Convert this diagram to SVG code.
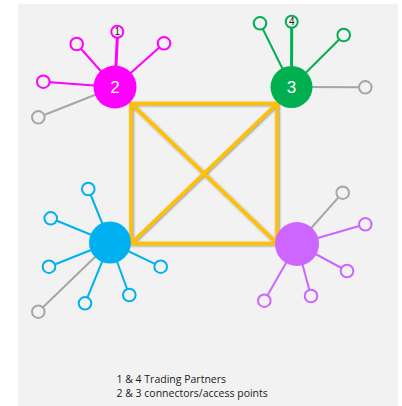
<svg xmlns="http://www.w3.org/2000/svg" width="402" height="406" viewBox="0 0 402 406">
<defs>
<style>
.sat{fill:#f2f2f2;stroke-width:2}
.ln{stroke-width:2;fill:none}
.mg{stroke:#ff00ff}.gr{stroke:#00b050}.bl{stroke:#00b0f0}.pu{stroke:#cc66ff}.gy{stroke:#a6a6a6}
.thick{stroke-width:3}
.lbl{font-family:"Liberation Sans",Arial,sans-serif;fill:#fff;font-size:17px;text-anchor:middle}
.num{font-family:"Liberation Sans",Arial,sans-serif;fill:#222;font-size:10px;text-anchor:middle}
.cap{font-family:"Open Sans","Liberation Sans",sans-serif;fill:#222;font-size:10.5px}
.sq{stroke:#ffc000;stroke-width:3.5;fill:none;stroke-linejoin:miter}
</style>
<filter id="sh" x="-10%" y="-10%" width="120%" height="120%">
<feDropShadow dx="0.8" dy="0.8" stdDeviation="0.8" flood-color="#000" flood-opacity="0.45"/>
</filter>
</defs>
<rect x="18" y="4" width="380" height="402" fill="#f2f2f2"/>
<g id="connectors">
<g filter="url(#sh)">
<rect class="sq" x="131" y="103.5" width="146" height="140"/>
<line class="sq" x1="131" y1="103.5" x2="277" y2="243.5"/>
<line class="sq" x1="277" y1="103.5" x2="131" y2="243.5"/>
</g>
<!-- node 2 spokes -->
<line class="ln mg thick" x1="115" y1="87" x2="117.3" y2="38"/>
<line class="ln mg" x1="115" y1="87" x2="76.7" y2="44"/>
<line class="ln mg" x1="115" y1="87" x2="164" y2="43.3"/>
<line class="ln mg" x1="115" y1="87" x2="43.3" y2="81.7"/>
<line class="ln gy" x1="115" y1="87" x2="38.3" y2="117.3"/>
<!-- node 3 spokes -->
<line class="ln gr" x1="291.5" y1="87" x2="260" y2="23.3"/>
<line class="ln gr thick" x1="291.5" y1="87" x2="291.7" y2="28"/>
<line class="ln gr" x1="291.5" y1="87" x2="343.7" y2="35"/>
<line class="ln gy" x1="291.5" y1="87" x2="365.3" y2="87.3"/>
<!-- blue spokes -->
<line class="ln bl" x1="110" y1="242.5" x2="88.3" y2="189"/>
<line class="ln bl" x1="110" y1="242.5" x2="50.7" y2="218.3"/>
<line class="ln bl" x1="110" y1="242.5" x2="49" y2="266.7"/>
<line class="ln bl" x1="110" y1="242.5" x2="85" y2="303.3"/>
<line class="ln bl" x1="110" y1="242.5" x2="129.3" y2="295"/>
<line class="ln bl" x1="110" y1="242.5" x2="160.7" y2="266.7"/>
<line class="ln gy" x1="110" y1="242.5" x2="38.3" y2="311.7"/>
<!-- purple spokes -->
<line class="ln gy" x1="297" y1="244" x2="342.7" y2="192.7"/>
<line class="ln pu" x1="297" y1="244" x2="365.3" y2="224.3"/>
<line class="ln pu" x1="297" y1="244" x2="347" y2="271"/>
<line class="ln pu" x1="297" y1="244" x2="311" y2="296"/>
<line class="ln pu" x1="297" y1="244" x2="264.3" y2="300.7"/>
</g>
<g id="node2">
<circle cx="115" cy="87" r="21.5" fill="#ff00ff"/>
<text class="lbl" x="115" y="93">2</text>
</g>
<g id="node3">
<circle cx="291.5" cy="87" r="21" fill="#00b050"/>
<text class="lbl" x="291.5" y="93">3</text>
</g>
<g id="nodeBlue">
<circle cx="110" cy="242.5" r="21" fill="#00b0f0"/>
</g>
<g id="nodePurple">
<circle cx="297" cy="244" r="22" fill="#cc66ff"/>
</g>
<g id="sat-tp1">
<circle class="sat mg" cx="117.3" cy="31.7" r="6"/>
<text class="num" x="117.3" y="35.3">1</text>
</g>
<g id="sat-tp4">
<circle class="sat gr" cx="291.7" cy="21.7" r="6"/>
<text class="num" x="291.7" y="25.3">4</text>
</g>
<g id="sat2-a"><circle class="sat mg" cx="76.7" cy="44" r="6.3"/></g>
<g id="sat2-b"><circle class="sat mg" cx="164" cy="43.3" r="6.3"/></g>
<g id="sat2-c"><circle class="sat mg" cx="43.3" cy="81.7" r="6.3"/></g>
<g id="sat2-d"><circle class="sat gy" cx="38.3" cy="117.3" r="6.3"/></g>
<g id="sat3-a"><circle class="sat gr" cx="260" cy="23.3" r="6.3"/></g>
<g id="sat3-b"><circle class="sat gr" cx="343.7" cy="35" r="6.3"/></g>
<g id="sat3-c"><circle class="sat gy" cx="365.3" cy="87.3" r="6.3"/></g>
<g id="satB-a"><circle class="sat bl" cx="88.3" cy="189" r="6.3"/></g>
<g id="satB-b"><circle class="sat bl" cx="50.7" cy="218.3" r="6.3"/></g>
<g id="satB-c"><circle class="sat bl" cx="49" cy="266.7" r="6.3"/></g>
<g id="satB-d"><circle class="sat bl" cx="85" cy="303.3" r="6.3"/></g>
<g id="satB-e"><circle class="sat bl" cx="129.3" cy="295" r="6.3"/></g>
<g id="satB-f"><circle class="sat bl" cx="160.7" cy="266.7" r="6.3"/></g>
<g id="satB-g"><circle class="sat gy" cx="38.3" cy="311.7" r="6.3"/></g>
<g id="satP-a"><circle class="sat gy" cx="342.7" cy="192.7" r="6.3"/></g>
<g id="satP-b"><circle class="sat pu" cx="365.3" cy="224.3" r="6.3"/></g>
<g id="satP-c"><circle class="sat pu" cx="347" cy="271" r="6.3"/></g>
<g id="satP-d"><circle class="sat pu" cx="311" cy="296" r="6.3"/></g>
<g id="satP-e"><circle class="sat pu" cx="264.3" cy="300.7" r="6.3"/></g>
<g id="caption">
<text class="cap" x="116.5" y="382.5">1 &amp; 4 Trading Partners</text>
<text class="cap" x="116.5" y="396.5">2 &amp; 3 connectors/access points</text>
</g>
</svg>
